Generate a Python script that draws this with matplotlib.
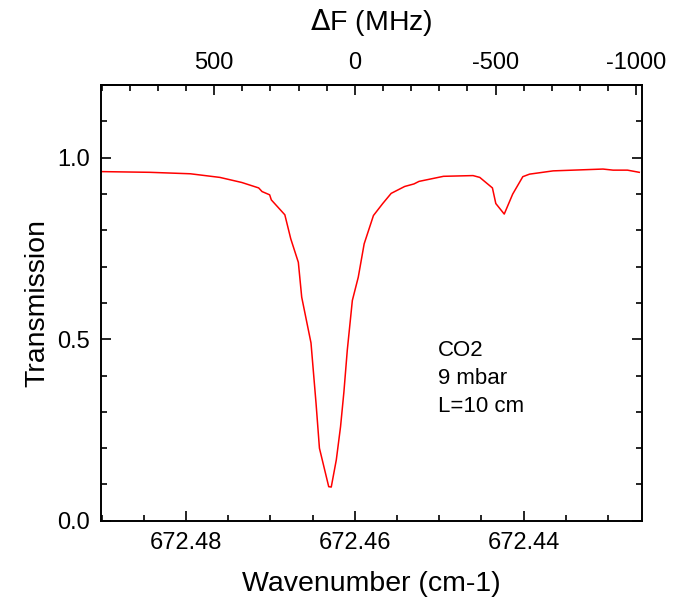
import matplotlib
matplotlib.use("Agg")
import matplotlib.pyplot as plt
from matplotlib.ticker import MultipleLocator

plt.rcParams['font.family'] = ['Liberation Sans', 'DejaVu Sans']
plt.rcParams['axes.unicode_minus'] = False

# measured spectrum, wavenumber in cm-1 and transmission
wavenumber = [672.4901, 672.4843, 672.4795, 672.4760, 672.4734, 672.4714, 672.4710,
              672.4701, 672.4699, 672.4683, 672.4676, 672.4667, 672.4663, 672.4652,
              672.4646, 672.4642, 672.4631, 672.4628, 672.4622, 672.4617, 672.4613,
              672.4609, 672.4603, 672.4596, 672.4589, 672.4578, 672.4567, 672.4557,
              672.4541, 672.4530, 672.4524, 672.4495, 672.4460, 672.4452, 672.4437,
              672.4433, 672.4423, 672.4413, 672.4401, 672.4393, 672.4365, 672.4306,
              672.4294, 672.4277, 672.4263]
transmission = [0.962, 0.960, 0.956, 0.946, 0.932, 0.917, 0.907,
                0.898, 0.884, 0.843, 0.777, 0.712, 0.616, 0.490,
                0.323, 0.200, 0.094, 0.093, 0.168, 0.259, 0.355,
                0.470, 0.607, 0.671, 0.763, 0.841, 0.874, 0.902,
                0.921, 0.928, 0.935, 0.949, 0.951, 0.946, 0.917,
                0.874, 0.845, 0.900, 0.948, 0.955, 0.964, 0.969,
                0.966, 0.966, 0.960]

nu0 = 672.46          # line centre, cm-1
c_mhz = 29979.2458    # MHz per cm-1
info_lines = ['CO2', '9 mbar', 'L=10 cm']

fig = plt.figure(figsize=(6.77, 6.0), dpi=100)
ax = fig.add_axes([0.149, 0.132, 0.799, 0.726])

ax.plot(wavenumber, transmission, color='red', lw=1.1)

ax.set_xlim(672.4901, 672.426)
ax.set_ylim(0, 1.2)
ax.xaxis.set_major_locator(MultipleLocator(0.02))
ax.xaxis.set_minor_locator(MultipleLocator(0.005))
ax.yaxis.set_major_locator(MultipleLocator(0.5))
ax.yaxis.set_minor_locator(MultipleLocator(0.1))
ax.xaxis.set_major_formatter(matplotlib.ticker.FormatStrFormatter('%.2f'))
ax.yaxis.set_major_formatter(matplotlib.ticker.FormatStrFormatter('%.1f'))

ax.tick_params(which='both', direction='in', labelsize=17, width=1.2, right=True)
ax.tick_params(which='major', length=7, pad=8)
ax.tick_params(which='minor', length=4)
ax.tick_params(axis='y', which='both', labelright=False)
for s in ax.spines.values():
    s.set_linewidth(1.4)

# frequency offset on the top axis
top = ax.secondary_xaxis('top', functions=(lambda x: (x - nu0) * c_mhz,
                                           lambda f: f / c_mhz + nu0))
top.xaxis.set_major_locator(MultipleLocator(500))
top.xaxis.set_minor_locator(MultipleLocator(100))
top.tick_params(which='both', direction='in', labelsize=17, width=1.2)
top.tick_params(which='major', length=7, pad=8)
top.tick_params(which='minor', length=4)
top.spines['top'].set_linewidth(1.4)
top.set_xlabel('$\\Delta$F (MHz)', fontsize=20.5, labelpad=16)

ax.set_xlabel('Wavenumber (cm-1)', fontsize=20.5, labelpad=12)
ax.set_ylabel('Transmission', fontsize=20.5, labelpad=5)

ax.text(0.623, 0.415, '\n'.join(info_lines), transform=ax.transAxes,
        fontsize=16, va='top', ha='left', linespacing=1.45)

fig.savefig('out.png', dpi=100)
